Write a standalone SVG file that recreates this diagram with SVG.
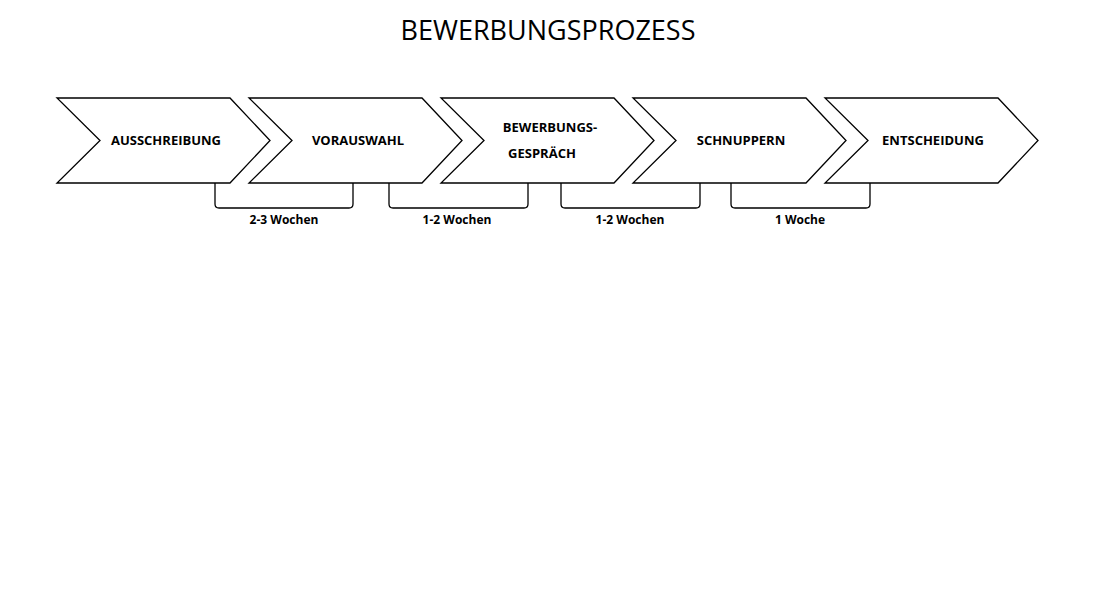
<svg xmlns="http://www.w3.org/2000/svg" width="1112" height="612" viewBox="0 0 1112 612">
<style>
.ch{fill:#fff;stroke:#000;stroke-width:1.3}
.t{font-family:"Open Sans","Liberation Sans",sans-serif;font-weight:bold;font-size:13px;text-anchor:middle;fill:#000}
.l{font-family:"Open Sans","Liberation Sans",sans-serif;font-weight:bold;font-size:12px;text-anchor:middle;fill:#000}
.b{fill:none;stroke:#000;stroke-width:1.3}
</style>
<rect width="1112" height="612" fill="#fff"/>
<text x="548" y="40" font-family="'Open Sans','Liberation Sans',sans-serif" font-size="27" text-anchor="middle">BEWERBUNGSPROZESS</text>
<g id="n1"><path class="ch" d="M57,98H230L270,140.5L230,183H57L100,140.5Z"/><text class="t" x="166" y="145">AUSSCHREIBUNG</text></g>
<g id="n2"><path class="ch" d="M249,98H422L462,140.5L422,183H249L292,140.5Z"/><text class="t" x="358" y="145">VORAUSWAHL</text></g>
<g id="n3"><path class="ch" d="M441,98H614L654,140.5L614,183H441L484,140.5Z"/><text class="t" x="550" y="132">BEWERBUNGS-</text><text class="t" x="542" y="158">GESPRÄCH</text></g>
<g id="n4"><path class="ch" d="M633,98H806L846,140.5L806,183H633L676,140.5Z"/><text class="t" x="741" y="145">SCHNUPPERN</text></g>
<g id="n5"><path class="ch" d="M825,98H998L1038,140.5L998,183H825L868,140.5Z"/><text class="t" x="933" y="145">ENTSCHEIDUNG</text></g>
<g id="connectors">
<path class="b" d="M215,183V204Q215,208 219,208H349Q353,208 353,204V183"/>
<path class="b" d="M389,183V204Q389,208 393,208H524Q528,208 528,204V183"/>
<path class="b" d="M561,183V204Q561,208 565,208H696Q700,208 700,204V183"/>
<path class="b" d="M731,183V204Q731,208 735,208H866Q870,208 870,204V183"/>
</g>
<text class="l" x="284" y="224">2-3 Wochen</text>
<text class="l" x="457" y="224">1-2 Wochen</text>
<text class="l" x="630" y="224">1-2 Wochen</text>
<text class="l" x="800" y="224">1 Woche</text>
</svg>
